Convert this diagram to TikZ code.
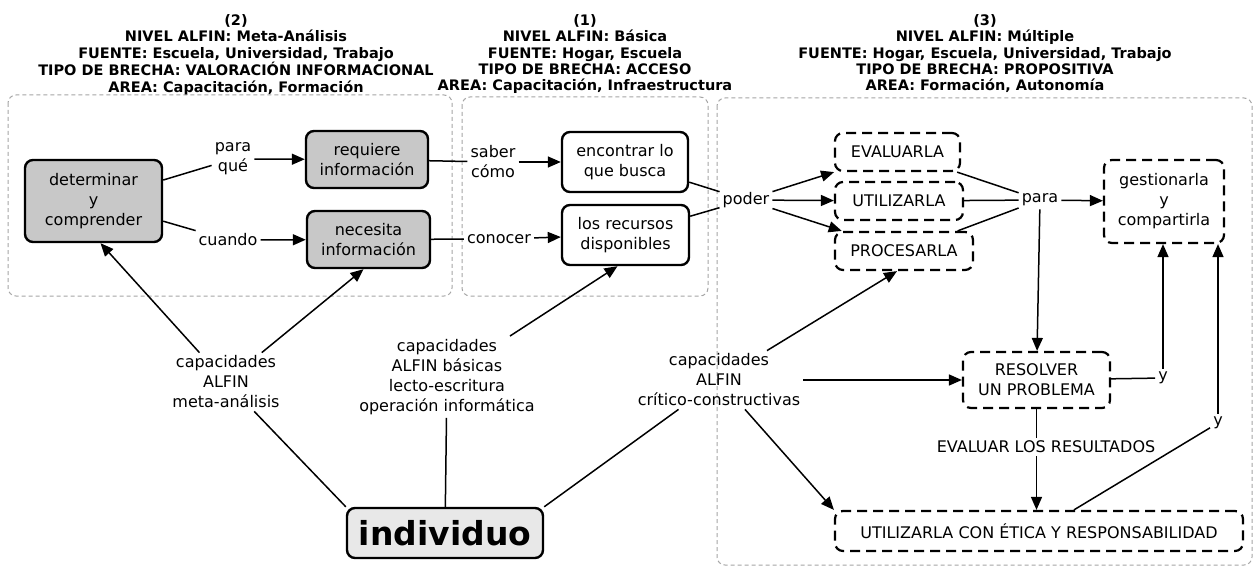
\documentclass[tikz,border=0pt]{standalone}
\usepackage{fontspec}
\setmainfont{DejaVu Sans}
\usetikzlibrary{arrows.meta}
\definecolor{boxgray}{RGB}{200,200,200}
\definecolor{indgray}{RGB}{232,232,232}
\definecolor{grpgray}{RGB}{165,165,165}
\begin{document}
\begin{tikzpicture}[x=1pt,y=-1pt,
  txt/.style={font=\fontsize{16}{20}\selectfont, align=center, inner sep=3pt},
  hdr/.style={font=\fontsize{14.5}{16.25}\selectfont\bfseries, align=center, inner sep=0pt, anchor=north},
  solidbox/.style={txt, draw, line width=2.4pt, rounded corners=8pt},
  graybox/.style={solidbox, fill=boxgray},
  dashbox/.style={txt, draw, line width=2.2pt, rounded corners=8pt, dash pattern=on 10pt off 6pt},
  grp/.style={draw=grpgray, line width=1pt, dash pattern=on 4pt off 3pt, rounded corners=8pt},
  conn/.style={line width=1.5pt},
  arr/.style={conn, -{Triangle[length=13pt,width=11pt]}},
]
\useasboundingbox (0,0) rectangle (1256,567);

% headers
\node[hdr] (h2) at (236,14.5) {(2)\\NIVEL ALFIN: Meta-Análisis\\FUENTE: Escuela, Universidad, Trabajo\\TIPO DE BRECHA: VALORACIÓN INFORMACIONAL\\AREA: Capacitación, Formación};
\node[hdr] (h1) at (585,14.5) {(1)\\NIVEL ALFIN: Básica\\FUENTE: Hogar, Escuela\\TIPO DE BRECHA: ACCESO\\AREA: Capacitación, Infraestructura};
\node[hdr] (h3) at (985,14.5) {(3)\\NIVEL ALFIN: Múltiple\\FUENTE: Hogar, Escuela, Universidad, Trabajo\\TIPO DE BRECHA: PROPOSITIVA\\AREA: Formación, Autonomía};

% group frames
\draw[grp] (8,95) rectangle (452,296);
\draw[grp] (462,97) rectangle (708,296);
\draw[grp] (717,98) rectangle (1252,565);

% concept nodes
\node[graybox, minimum width=137pt, minimum height=82pt] (det) at (93.5,201) {determinar\\y\\comprender};
\node[graybox, minimum width=122pt, minimum height=57pt] (req) at (367,159.5) {requiere\\información};
\node[graybox, minimum width=123pt, minimum height=57pt] (nec) at (368.5,239.5) {necesita\\información};
\node[solidbox, minimum width=126pt, minimum height=60pt] (enc) at (625,162) {encontrar lo\\que busca};
\node[solidbox, minimum width=127pt, minimum height=60pt] (rec) at (625.5,235) {los recursos\\disponibles};
\node[dashbox, minimum width=125pt, minimum height=38pt] (eva) at (897.5,152) {EVALUARLA};
\node[dashbox, minimum width=128pt, minimum height=38pt] (uti) at (899,201) {UTILIZARLA};
\node[dashbox, minimum width=138pt, minimum height=38pt] (pro) at (904,251) {PROCESARLA};
\node[dashbox, minimum width=120pt, minimum height=83pt] (ges) at (1164,201.5) {gestionarla\\y\\compartirla};
\node[dashbox, minimum width=147pt, minimum height=56pt] (res) at (1036.5,380) {RESOLVER\\UN PROBLEMA};
\node[dashbox, minimum width=408pt, minimum height=40pt] (eti) at (1039,531) {UTILIZARLA CON ÉTICA Y RESPONSABILIDAD};
\node[solidbox, fill=indgray, minimum width=196pt, minimum height=50pt, font=\fontsize{33}{36}\selectfont\bfseries] (ind) at (445,533) {individuo};

% linking phrases
\node[txt] (paraque) at (233,159) {para\\qué};
\node[txt] (cuando) at (228,240) {cuando};
\node[txt] (saber) at (493,162) {saber\\cómo};
\node[txt] (conocer) at (499,239) {conocer};
\node[txt] (poder) at (746,200) {poder};
\node[txt] (para) at (1040,200) {para};
\node[txt] (meta) at (226,382) {capacidades\\ALFIN\\meta-análisis};
\node[txt] (bas) at (447,377) {capacidades\\ALFIN básicas\\lecto-escritura\\operación informática};
\node[txt] (crit) at (719,380) {capacidades\\ALFIN\\crítico-constructivas};
\node[txt] (y1) at (1163,378) {y};
\node[txt] (y2) at (1218,423) {y};
\node[txt] (ev) at (1046,447) {EVALUAR LOS RESULTADOS};

% connectors
\draw[conn] (det) -- (paraque);
\draw[arr] (paraque) -- (req);
\draw[conn] (det) -- (cuando);
\draw[arr] (cuando) -- (nec);
\draw[conn] (req) -- (saber);
\draw[arr] (saber) -- (enc);
\draw[conn] (nec) -- (conocer);
\draw[arr] (conocer) -- (rec);
\draw[conn] (enc) -- (poder);
\draw[conn] (rec) -- (poder);
\draw[arr] (poder) -- (eva);
\draw[arr] (poder) -- (uti);
\draw[arr] (poder) -- (pro);
\draw[conn] (eva) -- (para);
\draw[conn] (uti) -- (para);
\draw[conn] (pro) -- (para);
\draw[arr] (para) -- (ges);
\draw[arr] (para) -- (res);
\draw[conn] (res) -- (y1);
\draw[arr] (y1) -- (y1 |- ges.south);
\draw[conn] (res.south) -- (res.south |- ev.north);
\draw[arr] (res.south |- ev.south) -- (res.south |- eti.north);
\draw[conn] (eti) -- (y2);
\draw[arr] (y2) -- (y2 |- ges.south);

\draw[arr] (meta) -- ([xshift=7pt]det.south);
\draw[arr] (meta) -- ([xshift=-5pt]nec.south);
\draw[conn] (meta) -- (ind.north west);
\draw[conn] (bas) -- (ind);
\draw[arr] (bas) -- ([xshift=-8pt]rec.south);
\draw[conn] (crit) -- (ind.north east);
\draw[arr] (crit) -- ([xshift=-7pt]pro.south);
\draw[arr] (crit) -- (res);
\draw[arr] (crit) -- (eti.north west);
\end{tikzpicture}
\end{document}
